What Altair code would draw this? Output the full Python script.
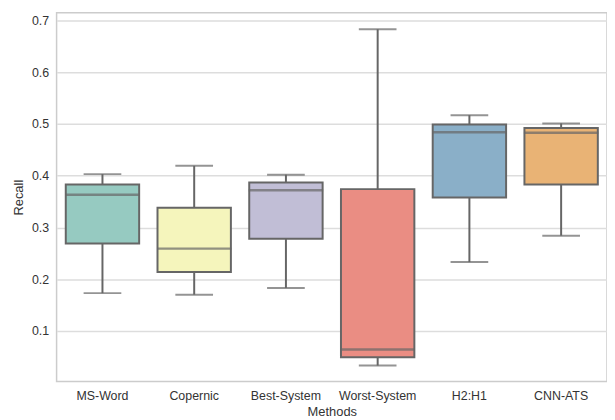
import altair as alt
import pandas as pd

methods = ["MS-Word", "Copernic", "Best-System", "Worst-System", "H2:H1", "CNN-ATS"]
lower = [0.173, 0.170, 0.183, 0.033, 0.233, 0.284]
q1 = [0.269, 0.214, 0.278, 0.049, 0.358, 0.383]
median = [0.363, 0.259, 0.372, 0.064, 0.484, 0.483]
q3 = [0.383, 0.338, 0.387, 0.374, 0.499, 0.492]
upper = [0.403, 0.419, 0.402, 0.683, 0.517, 0.501]
colors = ["#96cac1", "#f5f5bc", "#c1bed6", "#ea8d83", "#8aafc8", "#e9b375"]

df = pd.DataFrame({"Methods": methods, "lower": lower, "q1": q1, "median": median,
                   "q3": q3, "upper": upper})

line_col = "#666666"
x = alt.X("Methods:N", sort=methods, title="Methods",
          scale=alt.Scale(paddingInner=0, paddingOuter=0),
          axis=alt.Axis(labelAngle=0, ticks=False, domain=False, grid=False,
                        labelPadding=8, titlePadding=4, labelFontSize=12.5,
                        titleFontSize=13, titleFontWeight="normal",
                        labelColor="#333333", titleColor="#333333",
                        labelFont="Liberation Sans", titleFont="Liberation Sans"))
yscale = alt.Scale(domain=[0.002, 0.715], nice=False, zero=False)
yaxis = alt.Axis(values=[0.1, 0.2, 0.3, 0.4, 0.5, 0.6, 0.7], format=".1f",
                 ticks=False, domain=False, grid=True, gridColor="#dddddd",
                 gridWidth=1.5, labelPadding=8, titlePadding=6, labelFontSize=12.5,
                 titleFontSize=13, titleFontWeight="normal", labelColor="#333333",
                 titleColor="#333333", labelFont="Liberation Sans",
                 titleFont="Liberation Sans")

base = alt.Chart(df)

whisk_lo = base.mark_rule(color=line_col, strokeWidth=2).encode(
    x=x, y=alt.Y("lower:Q", scale=yscale, axis=yaxis, title="Recall"), y2="q1:Q")
whisk_hi = base.mark_rule(color=line_col, strokeWidth=2).encode(
    x=x, y=alt.Y("q3:Q", scale=yscale), y2="upper:Q")
cap_lo = base.mark_tick(color=line_col, thickness=2, size=38, orient="horizontal").encode(
    x=x, y=alt.Y("lower:Q", scale=yscale))
cap_hi = base.mark_tick(color=line_col, thickness=2, size=38, orient="horizontal").encode(
    x=x, y=alt.Y("upper:Q", scale=yscale))
box = base.mark_bar(stroke=line_col, strokeWidth=2,
                    width=alt.RelativeBandSize(0.8)).encode(
    x=x, y=alt.Y("q1:Q", scale=yscale), y2="q3:Q",
    color=alt.Color("Methods:N", sort=methods,
                    scale=alt.Scale(domain=methods, range=colors), legend=None))
med = base.mark_tick(color=line_col, thickness=2.5, size=75, orient="horizontal").encode(
    x=x, y=alt.Y("median:Q", scale=yscale))

chart = alt.layer(whisk_lo, whisk_hi, cap_lo, cap_hi, box, med).properties(
    width=555, height=372,
    padding={"left": 4, "top": 3, "right": 0, "bottom": 0},
    background="white",
).configure_view(stroke="#cccccc", strokeWidth=1.5)

chart.save("out.html", embed_options={"renderer": "svg", "actions": False})
